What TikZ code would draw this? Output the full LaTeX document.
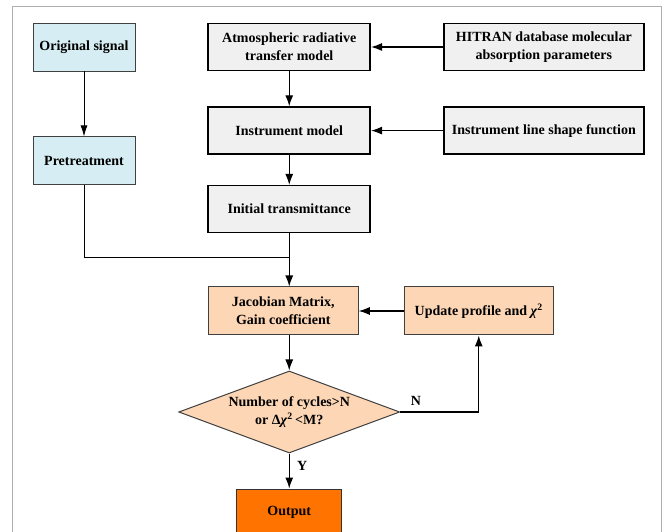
\documentclass[tikz,border=0pt]{standalone}
\usepackage{fontspec}
\setmainfont{Liberation Serif}
\usetikzlibrary{arrows.meta, positioning, shapes.geometric}

\definecolor{signalblue}{RGB}{214,238,243}
\definecolor{modelgray}{RGB}{240,240,240}
\definecolor{loopsand}{RGB}{252,214,181}
\definecolor{outorange}{RGB}{255,115,0}
\definecolor{framegray}{RGB}{175,175,175}

\newcommand{\chisq}{\textit{χ}\textsuperscript{2}}

\begin{document}
\begin{tikzpicture}[
  x=1pt, y=1pt,
  font=\fontsize{14}{18}\selectfont\bfseries,
  signal/.style={draw=black!75, line width=0.9pt, fill=signalblue, align=center, minimum width=102pt, minimum height=48pt, inner sep=2pt},
  model/.style={draw, line width=1.6pt, fill=modelgray, align=center, minimum width=162pt, minimum height=47pt, inner sep=2pt},
  loopbox/.style={draw=black!75, line width=1pt, fill=loopsand, align=center, minimum width=150pt, minimum height=48pt, inner sep=2pt},
  decision/.style={diamond, aspect=2.7, draw=black!75, line width=1pt, fill=loopsand, align=center, minimum width=221pt, minimum height=82pt, inner sep=0pt},
  arrow/.style={-{Latex[length=11pt, width=8pt]}, line width=1.2pt},
  thinarrow/.style={-{Latex[length=11pt, width=7pt]}, line width=0.8pt}
]
  \useasboundingbox (0,0) rectangle (662,531);
  \draw[framegray, line width=1pt] (12,-5) -- (12,524) -- (661,524) -- (661,-5);

  \node[signal] (orig) at (84,484) {Original signal};
  \node[model, right=72pt of orig] (atm) {Atmospheric radiative\\transfer model};
  \node[model, minimum width=200pt, right=72pt of atm] (hitran) {HITRAN database molecular\\absorption parameters};
  \node[model, below=35pt of atm] (inst) {Instrument model};
  \node[model, minimum width=200pt, right=72pt of inst] (ils) {Instrument line shape function};
  \node[model, below=30pt of inst] (init) {Initial transmittance};
  \node[signal, below=65pt of orig] (pre) {Pretreatment};

  \node[loopbox, below=53pt of init, xshift=-6pt] (jac) {Jacobian Matrix,\\Gain coefficient};
  \node[loopbox, minimum width=149pt, right=45pt of jac] (upd) {Update profile and \chisq};
  \node[decision, below=35pt of jac, xshift=6pt] (dec) {Number of cycles>N\\or Δ\chisq\,<M?};
  \node[draw=black!80, line width=1pt, fill=outorange, minimum width=105pt, minimum height=47pt, below=35pt of dec] (out) {Output};

  \coordinate[below=24pt of init.south] (merge);

  \draw[thinarrow] (orig) -- (pre);
  \draw[arrow] (hitran) -- (atm);
  \draw[arrow] (ils) -- (inst);
  \draw[arrow] (atm) -- (inst);
  \draw[arrow] (inst) -- (init);
  \draw[line width=0.8pt] (pre) |- (merge);
  \draw[arrow] (init) -- (init |- jac.north);
  \draw[arrow] (init |- jac.south) -- (dec);
  \draw[arrow] (upd) -- (jac);
  \draw[arrow] (dec.east) -| node[pos=0.1, above, yshift=3pt] (nlab) {N} (upd.south);
  \draw[arrow] (dec) -- node[pos=0.35, right, xshift=4pt] (ylab) {Y} (out);
\end{tikzpicture}
\end{document}
